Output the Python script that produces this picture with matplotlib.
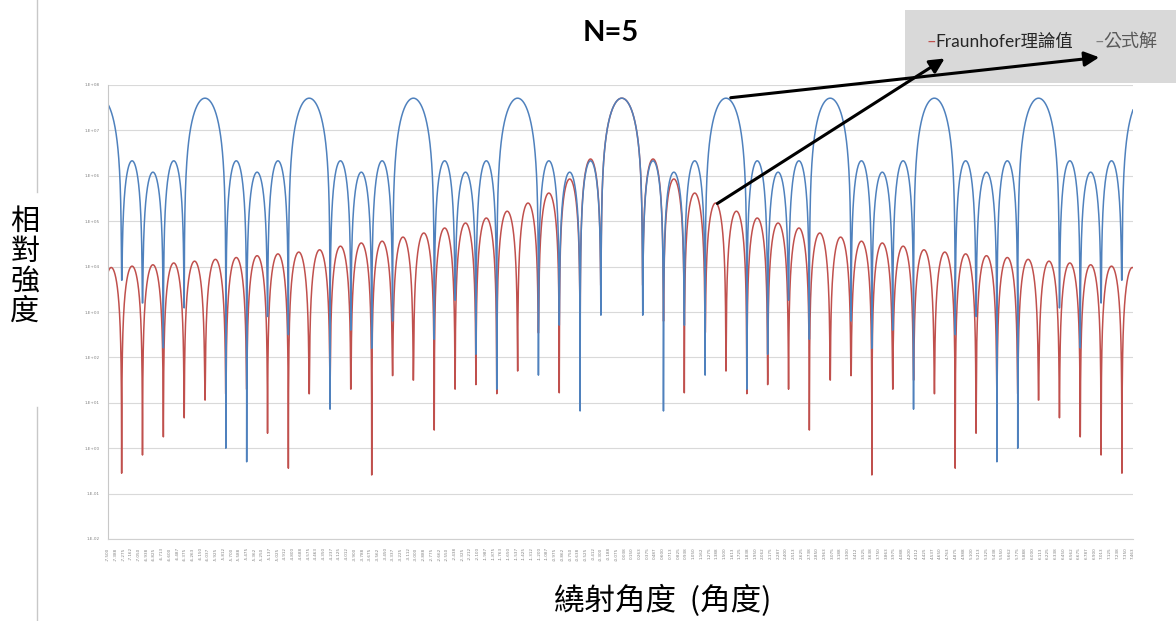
import numpy as np
import matplotlib
matplotlib.use('Agg')
import matplotlib.pyplot as plt
from matplotlib.patches import Rectangle, FancyArrowPatch
from matplotlib.lines import Line2D

# x axis: diffraction angle in degrees, Excel category labels every 3rd sample
angle_start = -7.5
angle_end = 7.4625
label_step = 0.1125

# lobe width in degrees (spacing between neighbouring zeros)
lobe_w = 0.3042

# red series (Fraunhofer) -- zeros at every k*w except k=0, values as log10
red_null_k = list(range(-24, 0)) + list(range(1, 25))
red_edge_k = [-25] + red_null_k + [25]
red_peak_exp = [3.98, 4.01, 4.04, 4.08, 4.12, 4.16, 4.20, 4.24, 4.28, 4.32, 4.37,
                4.45, 4.52, 4.56, 4.65, 4.74, 4.85, 4.96, 5.07, 5.22, 5.40, 5.62, 5.93, 6.37,
                7.71,
                6.37, 5.93, 5.62, 5.40, 5.22, 5.07, 4.96, 4.85, 4.74, 4.65, 4.56, 4.52,
                4.45, 4.37, 4.32, 4.28, 4.24, 4.20, 4.16, 4.12, 4.08, 4.04, 4.01, 3.98]
red_null_exp = [-0.55, -0.15, 0.25, 0.67, 1.06, 1.2, 1.3, 0.33, -0.44, 1.2, 1.5, 1.3,
                -0.59, 1.6, 1.5, 0.40, 1.3, 1.4, 1.2, 1.7, 2.54, 1.22, 2.8, 3.59,
                3.59, 2.8, 1.22, 2.54, 1.7, 1.2, 1.4, 1.3, 0.40, 1.5, 1.6, -0.59,
                1.3, 1.5, 1.2, -0.44, 0.33, 1.3, 1.2, 1.06, 0.67, 0.25, -0.15, -0.55]

# blue series (formula) -- principal maxima every 5 lobes
blue_null_k = [k for k in range(-24, 25) if k % 5 != 0]
blue_edge_k = [-26] + blue_null_k + [26]
blue_peak_exp = [7.71, 6.33, 6.08, 6.33, 7.71, 6.33, 6.08, 6.33, 7.71, 6.33, 6.08, 6.33,
                 7.71, 6.33, 6.08, 6.33, 7.71, 6.33, 6.08, 6.33, 7.71,
                 6.33, 6.08, 6.33, 7.71, 6.33, 6.08, 6.33, 7.71, 6.33, 6.08, 6.33,
                 7.71, 6.33, 6.08, 6.33, 7.71, 6.33, 6.08, 6.33, 7.71]
blue_null_exp = [3.70, 3.20, 2.21, 3.09, 0.0, -0.3, 2.9, 2.5, 0.86, 2.6, 2.2, 2.8,
                 2.4, 3.26, 2.07, 1.3, 1.61, 2.71, 0.82, 2.93,
                 2.93, 0.82, 2.71, 1.61, 1.3, 2.07, 3.26, 2.4, 2.8, 2.2, 2.6,
                 0.86, 2.5, 2.9, -0.3, 0.0, 3.09, 2.21, 3.20, 3.70]

red_color = '#c0504d'
blue_color = '#4f81bd'


def lobe_curve(x, edge_k, peak_exp, null_exp):
    edges = np.array(edge_k) * lobe_w
    depth = np.concatenate([[-9], null_exp, [-9]])
    i = np.clip(np.searchsorted(edges, x, side='right') - 1, 0, len(edges) - 2)
    a, b = edges[i], edges[i + 1]
    t = (x - a) / (b - a)
    with np.errstate(divide='ignore'):
        logy = np.array(peak_exp)[i] + 2 * np.log10(np.abs(np.sin(np.pi * t)))
    floor = np.where(t < 0.5, depth[i], depth[i + 1])
    return 10.0 ** np.maximum(logy, floor)


def dense_x(edge_k):
    x = np.linspace(angle_start, angle_end, 8000)
    nulls = np.array(edge_k) * lobe_w
    nulls = nulls[(nulls > angle_start) & (nulls < angle_end)]
    return np.unique(np.concatenate([x, nulls]))


fig = plt.figure(figsize=(11.76, 6.21), dpi=100)
ax = fig.add_axes([108 / 1176, 1 - 539 / 621, (1133 - 108) / 1176, (539 - 85) / 621])

xr = dense_x(red_edge_k)
xb = dense_x(blue_edge_k)
ax.plot(xr, lobe_curve(xr, red_edge_k, red_peak_exp, red_null_exp), color=red_color, lw=1.1)
ax.plot(xb, lobe_curve(xb, blue_edge_k, blue_peak_exp, blue_null_exp), color=blue_color, lw=1.1)

ax.set_yscale('log')
ax.set_ylim(1e-2, 1e8)
ax.set_xlim(angle_start, angle_end)
exps = list(range(-2, 9))
ax.set_yticks([10.0 ** e for e in exps])
ax.set_yticklabels(['1.E%s%02d' % ('+' if e >= 0 else '-', abs(e)) for e in exps])
ax.minorticks_off()
ax.yaxis.grid(True, color='#d9d9d9', lw=0.8)
ax.set_axisbelow(True)

n_labels = int(round((angle_end - angle_start) / label_step)) + 1
xt = angle_start + label_step * np.arange(n_labels)
ax.set_xticks(xt)
ax.set_xticklabels(['%.3f' % v for v in xt], rotation=90)
ax.tick_params(axis='both', length=0, labelsize=3, labelcolor='#808080', pad=6)

for s in ['top', 'right']:
    ax.spines[s].set_visible(False)
ax.spines['left'].set_color('#c8c8c8')
ax.spines['bottom'].set_color('#d0d0d0')

# title
fig.text(611 / 1176, 1 - 33 / 621, 'N=5', ha='center', va='center', fontsize=21,
         fontweight='bold', family=['Lato', 'DejaVu Sans'])

# legend box
fig.patches.append(Rectangle((905 / 1176, 1 - 83 / 621), 271 / 1176, 73 / 621,
                             transform=fig.transFigure, facecolor='#d9d9d9', edgecolor='none'))
fig.text(926 / 1176, 1 - 42 / 621, '\u2013', color=red_color, ha='left', va='center', fontsize=12,
         family=['Lato', 'DejaVu Sans'])
fig.text(935 / 1176, 1 - 42 / 621, 'Fraunhofer理論值', color='#262626', ha='left', va='center',
         fontsize=12.5, family=['Lato', 'Noto Sans CJK TC'])
fig.text(1095 / 1176, 1 - 42 / 621, '\u2013', color='#7f7f7f', ha='left', va='center', fontsize=12,
         family=['Lato', 'DejaVu Sans'])
fig.text(1103 / 1176, 1 - 42 / 621, '公式解', color='#595959', ha='left', va='center',
         fontsize=13, family=['Noto Sans CJK TC'])

# arrows from the curves to the legend entries
for (x0, y0), (x1, y1) in [((715, 205), (947, 57)), ((728, 98), (1102, 57))]:
    fig.patches.append(FancyArrowPatch((x0 / 1176, 1 - y0 / 621), (x1 / 1176, 1 - y1 / 621),
                                       transform=fig.transFigure, arrowstyle='-|>',
                                       mutation_scale=22, lw=2.2, color='black'))

# axis titles
fig.text(25 / 1176, 1 - 267 / 621, '相\n對\n強\n度', ha='center', va='center', fontsize=21,
         linespacing=1.0, family=['Noto Sans CJK TC'])
fig.text(663 / 1176, 1 - 601 / 621, '繞射角度  (角度)', ha='center', va='center', fontsize=22,
         family=['Noto Sans CJK TC'])

# slide frame line on the left
for ya, yb in [(0, 192), (407, 621)]:
    fig.lines.append(Line2D([37 / 1176, 37 / 1176], [1 - ya / 621, 1 - yb / 621],
                            transform=fig.transFigure, color='#c8c8c8', lw=1))

fig.savefig('out.png', dpi=100)
